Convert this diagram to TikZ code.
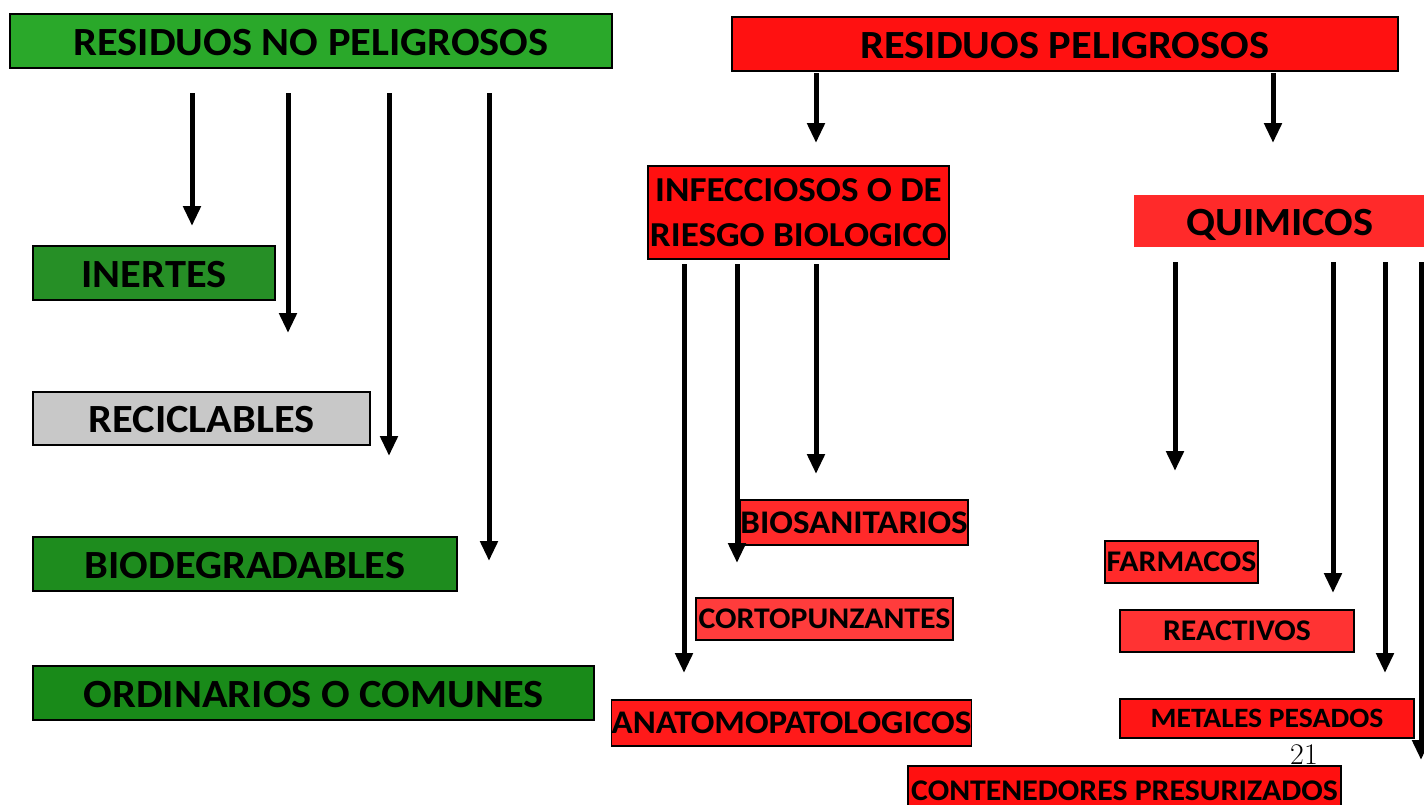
\documentclass[tikz,border=0pt]{standalone}
\usepackage{fontspec}
\setmainfont{Carlito}[FakeStretch=1.06]
\newfontfamily\lmfont{Latin Modern Roman}
\usetikzlibrary{arrows.meta}
\definecolor{gNP}{HTML}{2AA82A}
\definecolor{gIN}{HTML}{268F26}
\definecolor{gBI}{HTML}{1E8C1E}
\definecolor{gOR}{HTML}{198A19}
\definecolor{grRE}{HTML}{C8C8C8}
\definecolor{rRP}{HTML}{FF1111}
\definecolor{rINF}{HTML}{FF1010}
\definecolor{rQ}{HTML}{FF2A2A}
\definecolor{rBS}{HTML}{FF2A2A}
\definecolor{rCP}{HTML}{FF3C3C}
\definecolor{rAN}{HTML}{FF1A1A}
\definecolor{rFA}{HTML}{FF2A2A}
\definecolor{rRC}{HTML}{FF3333}
\definecolor{rMP}{HTML}{FF1515}
\definecolor{rCO}{HTML}{FF1010}
\tikzset{
  box/.style={draw=black, line width=1.5pt, inner sep=0pt, text=black, text depth=0pt},
  arr/.style={line width=5pt, -{Triangle[width=17pt,length=20pt]}},
  big/.style={font=\bfseries\fontsize{40}{48}\selectfont, text height=28pt},
  mid/.style={font=\bfseries\fontsize{33}{40}\selectfont, text height=21.5pt},
  sml/.style={font=\bfseries\fontsize{30}{36}\selectfont, text height=19.5pt},
}
\begin{document}
\begin{tikzpicture}[x=1pt,y=-1pt]
\useasboundingbox (0,0) rectangle (1424,804);
\clip (0,0) rectangle (1424,804);
\fill[white] (0,0) rectangle (1424,804);
% left side
\node[box,big,fill=gNP,minimum width=602pt,minimum height=54pt] (np) at (311,41) {RESIDUOS NO PELIGROSOS};
\node[box,big,fill=gIN,minimum width=242pt,minimum height=54pt] (in) at (154,273) {INERTES};
\node[box,big,fill=grRE,minimum width=337pt,minimum height=53pt] (rc) at (201.5,418.5) {RECICLABLES};
\node[box,big,fill=gBI,minimum width=424pt,minimum height=54pt] (bd) at (245,564) {BIODEGRADABLES};
\node[box,big,fill=gOR,minimum width=561pt,minimum height=54pt] (or) at (313.5,693) {ORDINARIOS O COMUNES};
% right side
\node[box,big,fill=rRP,minimum width=666pt,minimum height=54pt] (rp) at (1065,44) {RESIDUOS PELIGROSOS};
\node[box,fill=rINF,minimum width=301pt,minimum height=93pt,align=center,font=\bfseries\fontsize{35}{45}\selectfont] (inf) at (798.5,212.5) {INFECCIOSOS O DE\\RIESGO BIOLOGICO};
\node[box,draw=none,big,fill=rQ,minimum width=292pt,minimum height=52pt] (qu) at (1280,221) {QUIMICOS};
\node[box,mid,fill=rBS,minimum width=228pt,minimum height=45pt] (bs) at (854,522.5) {BIOSANITARIOS};
\node[box,sml,fill=rCP,minimum width=257pt,minimum height=42pt] (cp) at (824.5,619) {CORTOPUNZANTES};
\node[box,mid,fill=rAN,minimum width=359pt,minimum height=46pt] (an) at (791.5,723) {ANATOMOPATOLOGICOS};
\node[box,sml,fill=rFA,minimum width=153pt,minimum height=42pt] (fa) at (1181.5,562) {FARMACOS};
\node[box,sml,fill=rRC,minimum width=234pt,minimum height=42pt] (re) at (1237,631) {REACTIVOS};
\node[box,font=\bfseries\fontsize{28}{34}\selectfont,text height=18pt,fill=rMP,minimum width=294pt,minimum height=39pt] (mp) at (1267,718.5) {METALES PESADOS};
\node[box,font=\bfseries\fontsize{30}{36}\selectfont,text height=21pt,fill=rCO,minimum width=433pt,minimum height=48pt] (co) at (1124.5,790) {CONTENEDORES PRESURIZADOS};
\node[inner sep=0pt,font=\lmfont\fontsize{30}{36}\selectfont] (pg) at (1304,755) {21};
% arrow coordinates
\coordinate (a1s) at (192,93);  \coordinate (a1e) at (192,226);
\coordinate (a2s) at (288,93);  \coordinate (a2e) at (288,333);
\coordinate (a3s) at (389,93);  \coordinate (a3e) at (389,456);
\coordinate (a4s) at (489,93);  \coordinate (a4e) at (489,561);
\coordinate (b1s) at (816,73);  \coordinate (b1e) at (816,143);
\coordinate (b2s) at (1273,73); \coordinate (b2e) at (1273,143);
\coordinate (c1s) at (684,264); \coordinate (c1e) at (684,673);
\coordinate (c2s) at (737,264); \coordinate (c2e) at (737,563);
\coordinate (c3s) at (816,264); \coordinate (c3e) at (816,474);
\coordinate (d1s) at (1175,262); \coordinate (d1e) at (1175,471);
\coordinate (d2s) at (1333,262); \coordinate (d2e) at (1333,593);
\coordinate (d3s) at (1385,262); \coordinate (d3e) at (1385,673);
\coordinate (d4s) at (1421,262); \coordinate (d4e) at (1421,760);
\foreach \s/\e in {a1s/a1e,a2s/a2e,a3s/a3e,a4s/a4e,b1s/b1e,b2s/b2e,c1s/c1e,c2s/c2e,c3s/c3e,d1s/d1e,d2s/d2e,d3s/d3e,d4s/d4e}
  \draw[arr] (\s) -- (\e);
\end{tikzpicture}
\end{document}
